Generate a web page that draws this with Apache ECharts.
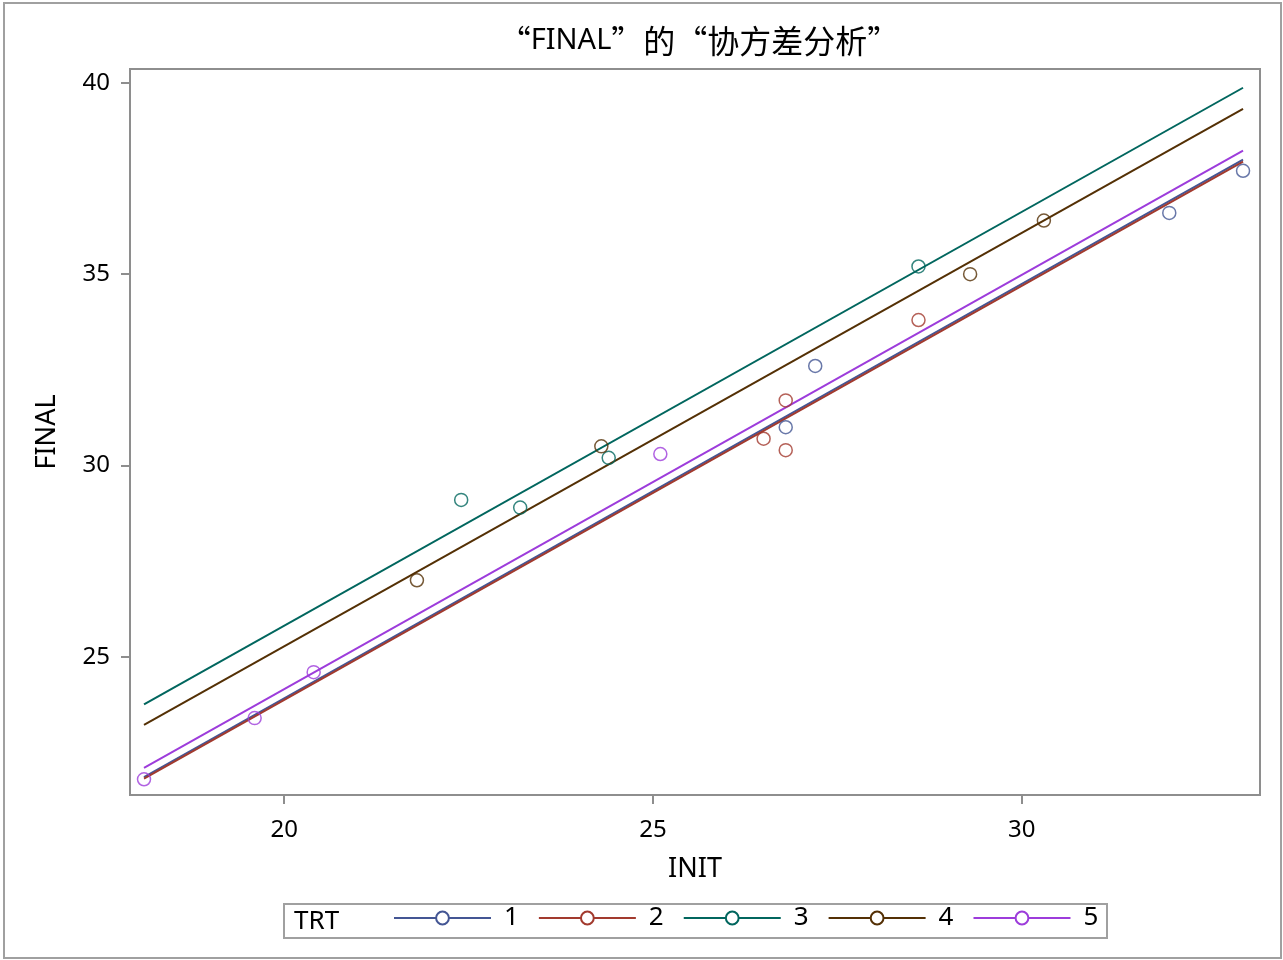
<!DOCTYPE html>
<html>
<head>
<meta charset="utf-8">
<script src="https://cdn.jsdelivr.net/npm/echarts@6/dist/echarts.min.js"></script>
<style>
html,body{margin:0;padding:0;background:#fff;}
#chart{width:1283px;height:960px;}
</style>
</head>
<body>
<div id="chart"></div>
<script>
// ---- data ----
const groups = ['1', '2', '3', '4', '5'];
const init1 = [26.8, 27.2, 32.0, 33.0];
const final1 = [31.0, 32.6, 36.6, 37.7];
const init2 = [26.5, 26.8, 26.8, 28.6];
const final2 = [30.7, 31.7, 30.4, 33.8];
const init3 = [22.4, 23.2, 24.4, 28.6];
const final3 = [29.1, 28.9, 30.2, 35.2];
const init4 = [21.8, 24.3, 29.3, 30.3];
const final4 = [27.0, 30.5, 35.0, 36.4];
const init5 = [18.1, 19.6, 20.4, 25.1];
const final5 = [21.8, 23.4, 24.6, 30.3];
// fitted lines: x range and y at both ends
const fitX = [18.1, 33.0];
const fitY1 = [21.86, 37.99];
const fitY2 = [21.82, 37.94];
const fitY3 = [23.76, 39.87];
const fitY4 = [23.22, 39.32];
const fitY5 = [22.10, 38.23];
const xTicks = [20, 25, 30];
const yTicks = [25, 30, 35, 40];

const colors = ['#445694', '#A23A2E', '#01665E', '#543005', '#9D3CDB'];
const inits = [init1, init2, init3, init4, init5];
const finals = [final1, final2, final3, final4, final5];
const fits = [fitY1, fitY2, fitY3, fitY4, fitY5];
const FONT = "'Noto Sans', 'Noto Sans CJK SC', sans-serif";
const CJK = "'Noto Sans CJK SC', sans-serif";

const series = [];
groups.forEach((g, i) => {
  series.push({
    name: g,
    type: 'line',
    data: fitX.map((x, k) => [x, fits[i][k]]),
    symbol: 'emptyCircle',
    symbolSize: 13,
    showSymbol: false,
    lineStyle: { color: colors[i], width: 2 },
    itemStyle: { color: colors[i], borderWidth: 1.3 },
    emphasis: { disabled: true },
    z: 2
  });
});
groups.forEach((g, i) => {
  series.push({
    name: g,
    type: 'scatter',
    data: inits[i].map((x, k) => [x, finals[i][k]]),
    symbol: 'circle',
    symbolSize: 13,
    itemStyle: { color: 'rgba(0,0,0,0)', borderColor: colors[i], borderWidth: 1.5 },
    emphasis: { disabled: true },
    z: 3
  });
});

const chart = echarts.init(document.getElementById('chart'), null, { renderer: 'canvas' });
chart.setOption({
  animation: false,
  backgroundColor: '#fff',
  title: {
    text: '{c|“}{l|FINAL}{c|”的“协方差分析”}',
    left: 694, textAlign: 'center',
    top: 20,
    textStyle: {
      fontSize: 32, color: '#000', fontWeight: 'normal',
      rich: {
        c: { fontFamily: CJK, fontSize: 32, color: '#000', fontWeight: 'normal' },
        l: { fontFamily: FONT, fontSize: 29, color: '#000', fontWeight: 'normal' }
      }
    }
  },
  grid: {
    left: 130, right: 23, top: 69, bottom: 165,
    show: true, borderColor: '#8E8E8E', borderWidth: 2, backgroundColor: '#fff'
  },
  xAxis: {
    type: 'value', min: 17.91, max: 33.23,
    name: 'INIT', nameLocation: 'middle', nameGap: 61,
    nameTextStyle: { fontFamily: FONT, fontSize: 27, color: '#000' },
    axisLine: { show: true, lineStyle: { color: '#8E8E8E', width: 2 } },
    axisTick: { show: true, length: 9, lineStyle: { color: '#8E8E8E', width: 2 }, customValues: xTicks },
    axisLabel: { fontFamily: FONT, fontSize: 24, color: '#000', margin: 23, customValues: xTicks },
    splitLine: { show: false }
  },
  yAxis: {
    type: 'value', min: 21.39, max: 40.36,
    name: 'FINAL', nameLocation: 'middle', nameGap: 69, nameRotate: 90,
    nameTextStyle: { fontFamily: FONT, fontSize: 27, color: '#000' },
    axisLine: { show: true, lineStyle: { color: '#8E8E8E', width: 2 } },
    axisTick: { show: true, length: 9, lineStyle: { color: '#8E8E8E', width: 2 }, customValues: yTicks },
    axisLabel: { fontFamily: FONT, fontSize: 24, color: '#000', margin: 20, customValues: yTicks },
    splitLine: { show: false }
  },
  legend: {
    data: groups,
    left: 393, top: 905, padding: 0,
    itemWidth: 97, itemHeight: 16, itemGap: 19,
    selectedMode: false,
    textStyle: { fontFamily: FONT, fontSize: 26, color: '#000', padding: [7, 0, 0, 8] }
  },
  graphic: [
    { type: 'rect', shape: { x: 4, y: 3, width: 1277, height: 955 }, style: { fill: 'none', stroke: '#A0A0A0', lineWidth: 2 }, silent: true, z: 100 },
    { type: 'rect', shape: { x: 284, y: 904, width: 823, height: 34 }, style: { fill: 'none', stroke: '#A0A0A0', lineWidth: 2 }, silent: true, z: 100 },
    { type: 'text', x: 294, y: 922, style: { text: 'TRT', fontFamily: FONT, fontSize: 26, fill: '#000', textVerticalAlign: 'middle' }, silent: true, z: 100 }
  ],
  series: series
});
</script>
</body>
</html>
